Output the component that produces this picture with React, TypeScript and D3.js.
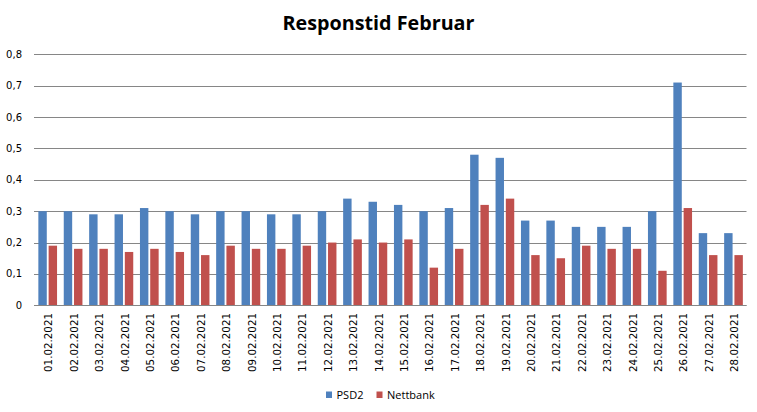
import React from "react";
import * as d3 from "d3";

const categories = [
  "01.02.2021","02.02.2021","03.02.2021","04.02.2021","05.02.2021","06.02.2021","07.02.2021",
  "08.02.2021","09.02.2021","10.02.2021","11.02.2021","12.02.2021","13.02.2021","14.02.2021",
  "15.02.2021","16.02.2021","17.02.2021","18.02.2021","19.02.2021","20.02.2021","21.02.2021",
  "22.02.2021","23.02.2021","24.02.2021","25.02.2021","26.02.2021","27.02.2021","28.02.2021",
];
const psd2 = [
  0.30,0.30,0.29,0.29,0.31,0.30,0.29,0.30,0.30,0.29,0.29,0.30,0.34,0.33,
  0.32,0.30,0.31,0.48,0.47,0.27,0.27,0.25,0.25,0.25,0.30,0.71,0.23,0.23,
];
const nettbank = [
  0.19,0.18,0.18,0.17,0.18,0.17,0.16,0.19,0.18,0.18,0.19,0.20,0.21,0.20,
  0.21,0.12,0.18,0.32,0.34,0.16,0.15,0.19,0.18,0.18,0.11,0.31,0.16,0.16,
];
const seriesNames = ["PSD2", "Nettbank"];
const yTicks = [0, 0.1, 0.2, 0.3, 0.4, 0.5, 0.6, 0.7, 0.8];
const title = "Responstid Februar";

const W = 757, H = 412;
const colors = ["#4F81BD", "#C0504D"];

export default function App() {
  const left = 35, right = 746.2, top = 54.3, bottom = 305.3;
  const x = d3.scaleBand<string>().domain(categories).range([left, right]).paddingInner(0.264).paddingOuter(0.132);
  const sub = d3.scaleBand<string>().domain(seriesNames).range([0, x.bandwidth()]).paddingInner(0.18);
  const y = d3.scaleLinear().domain([0, 0.8]).range([bottom, top]);
  const fmt = (v: number) => (v === 0 ? "0" : d3.format(".1f")(v).replace(".", ","));
  const series = [psd2, nettbank];
  const axisFont = "DejaVu Sans, sans-serif";
  return (
    <svg width={W} height={H} style={{ position: "absolute", left: 0, top: 0, background: "#fff" }}>
      <text x={378.5} y={29.5} textAnchor="middle" fontFamily="'Open Sans', sans-serif" fontWeight="bold" fontSize={19}
        textLength={192} lengthAdjust="spacingAndGlyphs" fill="#000">{title}</text>
      {yTicks.map((t) => (
        <g key={t}>
          <line x1={34} x2={746.5} y1={Math.round(y(t)) + 0.5} y2={Math.round(y(t)) + 0.5} stroke="#868686" strokeWidth={1} />
          <text x={22} y={y(t)} dy="0.35em" textAnchor="end" fontFamily={axisFont} fontSize={10} fill="#000">{fmt(t)}</text>
        </g>
      ))}
      {series.map((vals, si) =>
        vals.map((v, i) => (
          <rect key={si + "-" + i}
            x={(x(categories[i]) as number) + (sub(seriesNames[si]) as number)}
            y={y(v)} width={sub.bandwidth()} height={y(0) - y(v)} fill={colors[si]} />
        ))
      )}
      <line x1={34} x2={746.5} y1={Math.round(y(0)) + 0.5} y2={Math.round(y(0)) + 0.5} stroke="#868686" strokeWidth={1} />
      {categories.map((c) => {
        const cx = (x(c) as number) + x.bandwidth() / 2 + 1;
        return (
          <text key={c} transform={`translate(${cx},313) rotate(-90)`} textAnchor="end" dy="0.35em"
            fontFamily={axisFont} fontSize={10.3} fill="#000">{c}</text>
        );
      })}
      {seriesNames.map((n, i) => {
        const lx = i === 0 ? 326 : 376.5;
        return (
          <g key={n}>
            <rect x={lx} y={391.5} width={6} height={6.5} fill={colors[i]} />
            <text x={lx + 10.5} y={398.5} fontFamily="'Open Sans', sans-serif" fontSize={11} fill="#000">{n}</text>
          </g>
        );
      })}
    </svg>
  );
}
